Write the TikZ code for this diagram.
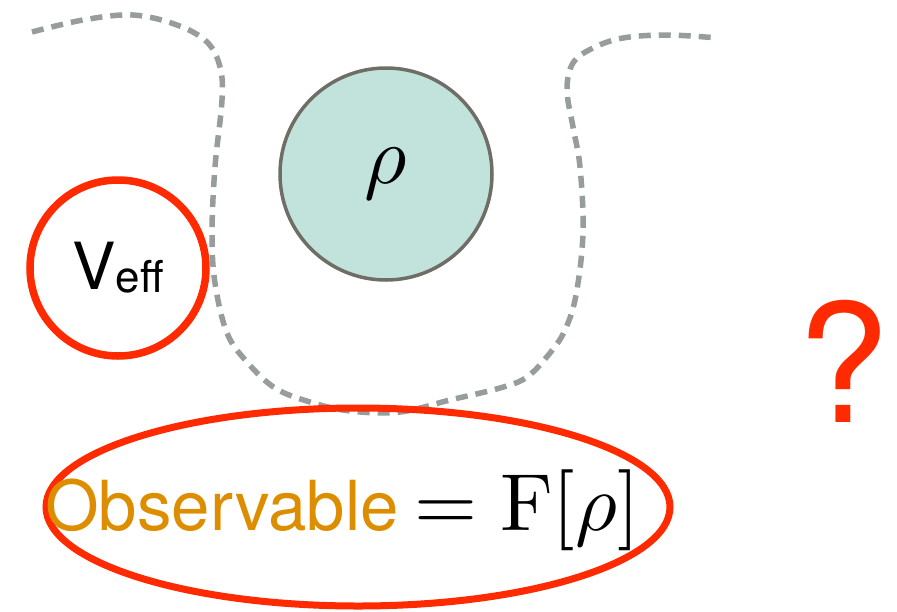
\documentclass[tikz,border=0pt]{standalone}
\usepackage{graphicx}
\usepackage[no-math]{fontspec}
\setmainfont{TeX Gyre Heros}
\usetikzlibrary{shapes.geometric}
\definecolor{myred}{HTML}{FF2A00}
\definecolor{dgray}{HTML}{979C9C}
\definecolor{teal1}{HTML}{C2E3DC}
\definecolor{rimgray}{HTML}{6E6E66}
\definecolor{obsorange}{HTML}{DD8E00}
\tikzset{
  dashline/.style={draw=dgray, line width=5.5pt, dash pattern=on 12pt off 8pt},
  redring/.style={circle, draw=myred, line width=7.5pt, inner sep=0pt},
  rhoball/.style={circle, draw=rimgray, fill=teal1, line width=3.5pt, inner sep=0pt},
}
\begin{document}
\begin{tikzpicture}[x=1pt,y=-1pt]
\useasboundingbox (0,0) rectangle (897,611);
\draw[dashline] plot[smooth, tension=0.6] coordinates {(32,32) (83,20) (133,15) (177,25) (207,42) (220,67) (222,100) (215,167) (212,233) (215,283) (227,333) (247,362) (275,388) (310,402) (350,411) (400,412) (450,400) (500,388) (527,377) (550,353) (565,330) (576,295) (583,233) (580,167) (573,127) (567,90) (573,63) (593,48) (623,38) (667,35) (718,38)};
\node[rhoball, minimum size=212pt] (rho) at (386,174) {\scalebox{8.2}{$\rho$}};
\node[redring, minimum size=176pt] (veff) at (118,268) {\fontsize{65}{72}\selectfont V\raisebox{-3pt}{\fontsize{44}{50}\selectfont eff}};
\node[ellipse, draw=myred, line width=7pt, minimum width=624pt, minimum height=198pt, inner sep=0pt] (obs) at (358,507) {};
\node[anchor=base west, inner sep=0pt] (eq) at (45,530) {\fontsize{69}{76}\selectfont\textcolor{obsorange}{Observable}\hspace{16pt}\scalebox{8.1}{\normalsize$=\mathrm{F}[\rho]$}};
\node[anchor=base, inner sep=0pt, text=myred] (q) at (843,422) {\fontsize{165}{180}\selectfont ?};
\end{tikzpicture}
\end{document}
